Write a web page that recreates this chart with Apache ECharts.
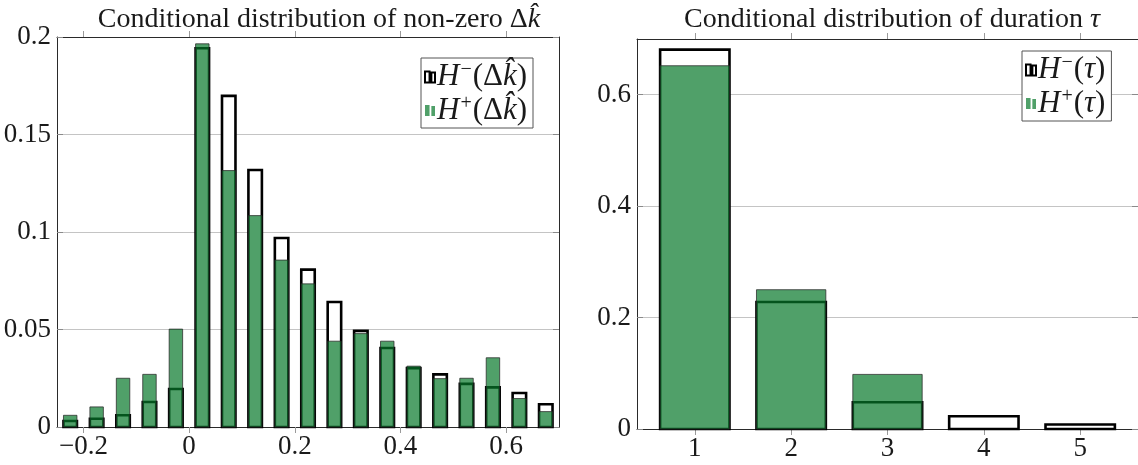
<!DOCTYPE html>
<html><head><meta charset="utf-8">
<script src="https://cdn.jsdelivr.net/npm/echarts@6/dist/echarts.min.js"></script>
<style>html,body{margin:0;padding:0;background:#fff}#c{width:1138px;height:465px}</style>
</head><body><div id="c"></div>
<script>
// ---- data ----
const dkCenters = [-0.225, -0.175, -0.125, -0.075, -0.025, 0.025, 0.075, 0.125, 0.175, 0.225, 0.275, 0.325, 0.375, 0.425, 0.475, 0.525, 0.575, 0.625, 0.675];
const hMinusDk = [0.0031, 0.0042, 0.0060, 0.0128, 0.0195, 0.1942, 0.1698, 0.1318, 0.0969, 0.0807, 0.0641, 0.0493, 0.0405, 0.0302, 0.0270, 0.0221, 0.0203, 0.0174, 0.0117];
const hPlusDk  = [0.0060, 0.0103, 0.0250, 0.0270, 0.0502, 0.1965, 0.1315, 0.1084, 0.0856, 0.0734, 0.0440, 0.0479, 0.0440, 0.0312, 0.0248, 0.0250, 0.0355, 0.0146, 0.0079];
const dkXTicks = [-0.2, 0, 0.2, 0.4, 0.6];
const dkYTicks = [0, 0.05, 0.1, 0.15, 0.2];

const tauCats = [1, 2, 3, 4, 5];
const hMinusTau = [0.681, 0.228, 0.048, 0.023, 0.008];
const hPlusTau  = [0.652, 0.250, 0.098, 0, 0];
const tauYTicks = [0, 0.2, 0.4, 0.6];

const titleLeft = 'Conditional distribution of non-zero Δ';
const titleRight = 'Conditional distribution of duration ';

// ---- style ----
const FONT = "'Liberation Serif', 'DejaVu Serif', serif";
const GREEN = 'rgba(5,119,41,0.7)';
const TXT = '#1a1a1a';

function barRender(width, style) {
  return function (params, api) {
    const x = api.value(0), y = api.value(1);
    if (!y) return null;
    const a = api.coord([x - width / 2, y]);
    const b = api.coord([x + width / 2, 0]);
    return { type: 'rect', shape: { x: a[0], y: a[1], width: b[0] - a[0], height: b[1] - a[1] }, style: style };
  };
}
const minusStyle = { fill: '#ffffff', stroke: '#000000', lineWidth: 2.6 };
const plusStyle = { fill: GREEN, stroke: 'rgba(40,40,40,0.75)', lineWidth: 1 };

const fmtX = v => (Math.abs(v) < 1e-9 ? '0' : String(+v.toFixed(2)).replace('-', '\u2212'));
const fmtY = v => String(+v.toFixed(2));

function xAxisDef(grid, pos, min, max, ticks, labels) {
  return {
    type: 'value', gridIndex: grid, position: pos, min: min, max: max,
    axisLine: { show: true, onZero: false, lineStyle: { color: '#2a2a2a', width: 1 } },
    axisTick: { show: true, inside: false, length: 6, customValues: ticks, lineStyle: { color: '#9a9a9a', width: 1 } },
    axisLabel: { show: labels, customValues: ticks, formatter: fmtX, fontFamily: FONT, fontWeight: 'normal', fontSize: 27, color: TXT, margin: 6 },
    splitLine: { show: false }
  };
}
function yAxisDef(grid, pos, max, interval, ticks, labels) {
  return {
    type: 'value', gridIndex: grid, position: pos, min: 0, max: max, interval: interval,
    axisLine: { show: true, onZero: false, lineStyle: { color: '#2a2a2a', width: 1 } },
    axisTick: { show: true, inside: true, length: 6, customValues: ticks, lineStyle: { color: '#8a8a8a', width: 1 } },
    axisLabel: { show: labels, customValues: ticks, formatter: fmtY, fontFamily: FONT, fontWeight: 'normal', fontSize: 27, color: TXT, margin: 6 },
    splitLine: { show: labels, lineStyle: { color: '#c4c4c4', width: 1 } }
  };
}

const rich = {
  i: { fontFamily: FONT, fontStyle: 'italic', fontWeight: 'normal', fontSize: 31, color: TXT, lineHeight: 34 },
  n: { fontFamily: FONT, fontWeight: 'normal', fontSize: 31, color: TXT, lineHeight: 34 },
  s: { fontFamily: FONT, fontWeight: 'normal', fontSize: 20, color: TXT, verticalAlign: 'top', lineHeight: 34, padding: [0, 1, 0, 1] }
};
const legendNames = {
  dkMinus: '{i|H}{s|\u2212}{n|(\u0394}{i|k\u0302}{n|)}',
  dkPlus: '{i|H}{s|+}{n|(\u0394}{i|k\u0302}{n|)}',
  tauMinus: '{i|H}{s|\u2212}{n|(}{i|\u03C4}{n|)}',
  tauPlus: '{i|H}{s|+}{n|(}{i|\u03C4}{n|)}'
};
const ICON = 'path://M0,0H5V12H0Z M7,1H11V12H7Z';
function legendDef(names, left, top) {
  return {
    orient: 'vertical', left: left, top: top, selectedMode: false,
    backgroundColor: '#fff', borderColor: '#555', borderWidth: 1, borderRadius: 0,
    padding: [2, 6, 2, 3], itemGap: 1, itemWidth: 10, itemHeight: 11,
    textStyle: { rich: rich, padding: [0, 0, 0, -3] },
    formatter: n => legendNames[n],
    data: [
      { name: names[0], icon: ICON, itemStyle: { color: '#fff', borderColor: '#000', borderWidth: 2 } },
      { name: names[1], icon: ICON, itemStyle: { color: 'rgb(80,160,105)', borderColor: 'rgb(80,160,105)', borderWidth: 0 } }
    ]
  };
}

const titleRich = {
  n: { fontFamily: FONT, fontSize: 28, fontWeight: 'normal', color: TXT },
  i: { fontFamily: FONT, fontSize: 28, fontWeight: 'normal', fontStyle: 'italic', color: TXT }
};

const chart = echarts.init(document.getElementById('c'), null, { renderer: 'canvas' });
chart.setOption({
  animation: false,
  backgroundColor: '#fff',
  title: [
    { text: '{n|' + titleLeft + '}{i|k\u0302}', left: 314, top: 1, textAlign: 'center',
      textStyle: { fontWeight: 'normal', fontFamily: FONT, rich: titleRich } },
    { text: '{n|' + titleRight + '}{i|\u03C4}', left: 887, top: 1, textAlign: 'center',
      textStyle: { fontWeight: 'normal', fontFamily: FONT, rich: titleRich } }
  ],
  grid: [
    { left: 57, top: 37, width: 502, height: 390 },
    { left: 637, top: 39, width: 501, height: 390 }
  ],
  xAxis: [
    xAxisDef(0, 'bottom', -0.25, 0.7, dkXTicks, true),
    xAxisDef(0, 'top', -0.25, 0.7, dkXTicks, false),
    xAxisDef(1, 'bottom', 0.4, 5.6, tauCats, true),
    xAxisDef(1, 'top', 0.4, 5.6, tauCats, false)
  ],
  yAxis: [
    yAxisDef(0, 'left', 0.2, 0.05, dkYTicks, true),
    yAxisDef(0, 'right', 0.2, 0.05, dkYTicks, false),
    yAxisDef(1, 'left', 0.7, 0.2, tauYTicks, true),
    yAxisDef(1, 'right', 0.7, 0.2, tauYTicks, false)
  ],
  legend: [
    legendDef(['dkMinus', 'dkPlus'], 421, 58),
    legendDef(['tauMinus', 'tauPlus'], 1022, 51)
  ],
  series: [
    { name: 'dkMinus', type: 'custom', xAxisIndex: 0, yAxisIndex: 0, z: 2, itemStyle: { color: '#fff' },
      renderItem: barRender(0.0255, minusStyle), data: dkCenters.map((c, i) => [c, hMinusDk[i]]) },
    { name: 'dkPlus', type: 'custom', xAxisIndex: 0, yAxisIndex: 0, z: 3, itemStyle: { color: 'rgb(80,160,105)' },
      renderItem: barRender(0.0255, plusStyle), data: dkCenters.map((c, i) => [c, hPlusDk[i]]) },
    { name: 'tauMinus', type: 'custom', xAxisIndex: 2, yAxisIndex: 2, z: 2, itemStyle: { color: '#fff' },
      renderItem: barRender(0.72, minusStyle), data: tauCats.map((c, i) => [c, hMinusTau[i]]) },
    { name: 'tauPlus', type: 'custom', xAxisIndex: 2, yAxisIndex: 2, z: 3, itemStyle: { color: 'rgb(80,160,105)' },
      renderItem: barRender(0.72, plusStyle), data: tauCats.map((c, i) => [c, hPlusTau[i]]) }
  ]
});
</script>
</body></html>
